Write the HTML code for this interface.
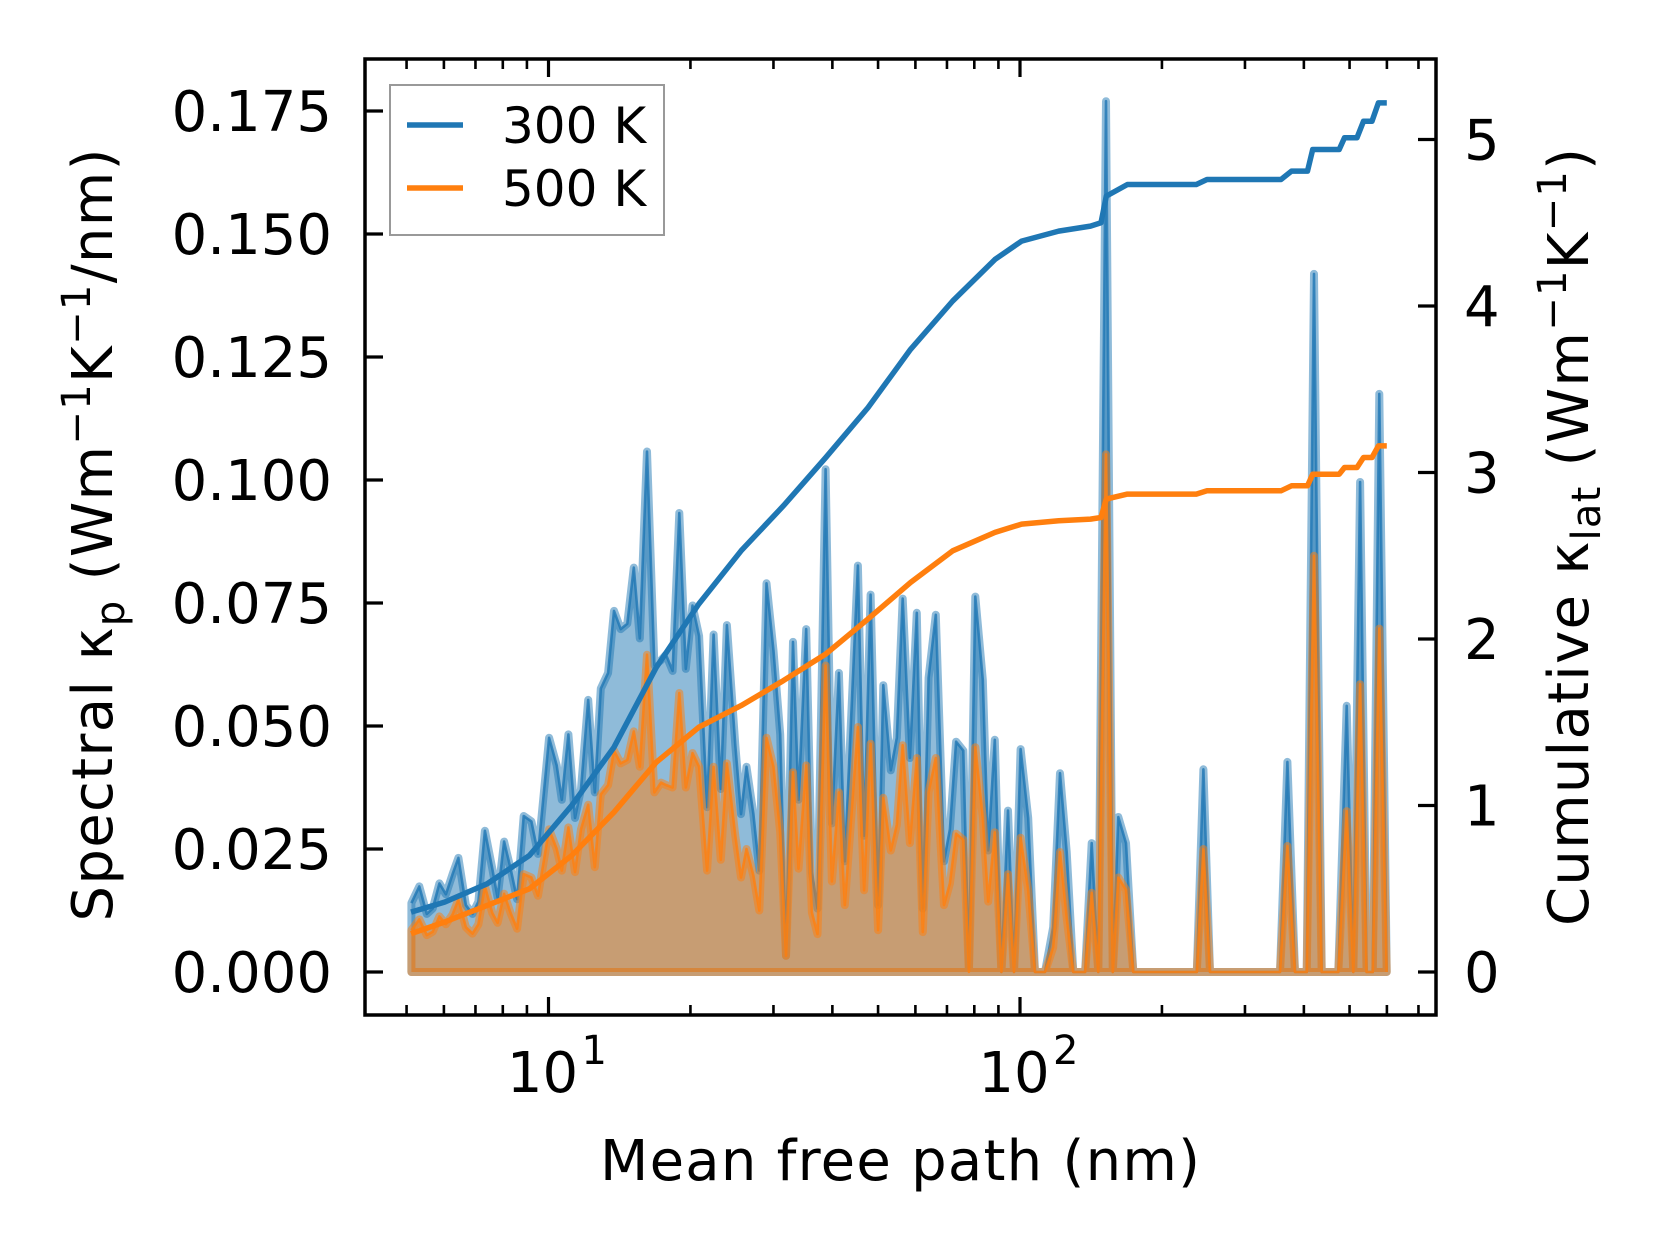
<!DOCTYPE html>
<html><head><meta charset="utf-8"><style>
html,body{margin:0;padding:0;background:#fff;}
svg{display:block;}
text{font-family:"DejaVu Sans","Liberation Sans",sans-serif;fill:#000;}
</style></head><body>
<svg id="chart" width="1660" height="1254" viewBox="0 0 1660 1254" xmlns="http://www.w3.org/2000/svg">
<rect x="0" y="0" width="1660" height="1254" fill="#fff"/>
<g id="plot"></g>
<g id="axes"></g>
<text x="900" y="1180" font-size="56" text-anchor="middle" textLength="600">Mean free path (nm)</text>
<text transform="translate(112,535) rotate(-90)" font-size="56" text-anchor="middle" textLength="773">Spectral κ<tspan font-size="40" dy="12">p</tspan><tspan dy="-12"> (Wm</tspan><tspan font-size="40" dy="-22">−1</tspan><tspan dy="22">K</tspan><tspan font-size="40" dy="-22">−1</tspan><tspan dy="22">/nm)</tspan></text>
<text transform="translate(1588,537) rotate(-90)" font-size="56" text-anchor="middle" textLength="778">Cumulative κ<tspan font-size="40" dy="12">lat</tspan><tspan dy="-12"> (Wm</tspan><tspan font-size="40" dy="-22">−1</tspan><tspan dy="22">K</tspan><tspan font-size="40" dy="-22">−1</tspan><tspan dy="22">)</tspan></text>
<g>
<rect x="390" y="85" width="274" height="150" fill="#fff" stroke="#999" stroke-width="2"/>
<line x1="407" y1="125" x2="463" y2="125" stroke="#1f77b4" stroke-width="5.5"/>
<text x="502" y="143" font-size="50">300 K</text>
<line x1="407" y1="188" x2="463" y2="188" stroke="#ff7f0e" stroke-width="5.5"/>
<text x="502" y="206" font-size="50">500 K</text>
</g>
</svg>
<script>
const mfp = [5.12,5.32,5.52,5.68,5.87,6.06,6.26,6.44,6.68,6.90,7.10,7.33,7.60,7.80,8.05,8.31,8.58,8.86,9.20,9.50,10.03,10.41,10.67,11.02,11.38,11.72,12.14,12.54,12.91,13.38,13.77,14.23,14.69,15.17,15.62,16.18,16.77,17.32,17.75,18.33,18.94,19.55,20.20,20.86,
21.7,22.4,23.2,23.9,24.9,25.6,26.3,27.2,28.0,29.0,30.0,31.0,31.9,33.0,33.9,35.2,36.2,37.2,38.7,39.9,41.3,42.5,45.3,46.7,48.2,50.0,51.3,53.2,54.8,56.4,58.4,60.4,62.2,64.0,66.3,69.0,71.0,73.2,75.8,77.9,80.4,83.4,85.6,88.4,91.3,94.3,97.1,100.3,104.1,107.6,113.0,
117.6,121.6,125.6,129.7,137.4,141.9,146.6,152.2,157.3,161.6,167.8,173.9,237.1,244.9,252.9,356.0,369.0,383.1,405.5,420.2,436.3,473.3,493.1,509.3,526.3,543.5,559.8,578.1,599.5];
const k300 = [.014,.0174,.0118,.0129,.018,.0158,.0199,.0232,.0136,.0118,.0143,.0287,.021,.0151,.0265,.021,.0148,.0317,.0306,.024,.0476,.042,.035,.0483,.0313,.0372,.0553,.0365,.0576,.0608,.0734,.0697,.0708,.0822,.0678,.1058,.0623,.0634,.0645,.0612,.0933,.0616,.0745,.0683,
.0335,.0686,.0372,.0705,.0461,.0321,.0417,.0321,.0206,.079,.0653,.0483,.0033,.0671,.035,.0697,.0203,.0129,.1022,.0302,.0608,.0225,.0826,.0277,.0767,.0136,.0583,.041,.0476,.0759,.0435,.073,.0129,.0598,.0726,.0225,.029,.0468,.045,.0004,.0763,.0594,.0247,.0472,0,.0328,0,.0453,.0313,0,0,
.0091,.0404,.0244,0,0,.0262,0,.177,0,.0315,.0262,0,0,.0412,0,0,.0427,0,0,.1419,0,0,.0541,0,.0996,0,0,.1175,0];
const k500 = [.0085,.0107,.0075,.0082,.0113,.0097,.0117,.0147,.0091,.0078,.0097,.0174,.012,.01,.0159,.012,.0088,.0199,.0192,.0155,.029,.025,.0206,.0294,.0203,.029,.034,.0213,.0361,.038,.045,.0424,.0431,.0489,.0417,.0645,.0365,.0385,.038,.0375,.0567,.0375,.0445,.0417,
.0206,.0417,.0228,.0424,.0277,.0192,.025,.0196,.0125,.0476,.0417,.0284,.0033,.0406,.021,.042,.0121,.0077,.0623,.0184,.0365,.0136,.0498,.0166,.0464,.0085,.0354,.0247,.0299,.0461,.0262,.0435,.0081,.0365,.0435,.0136,.018,.0281,.0269,0,.0457,.0313,.0143,.0284,0,.0199,0,.0273,.0166,0,0,
.005,.0244,.011,0,0,.0161,0,.1052,0,.0192,.0167,0,0,.025,0,0,.0256,0,0,.0846,0,0,.0327,0,.0585,0,0,.0698,0];
const cumMfp = [5.11,6.02,7.41,9.11,11.20,13.77,16.93,20.83,25.61,31.49,38.73,47.6,58.6,72.0,88.5,100.8,120.8,141.1,148.5,152.4,169.0,236.6,249.2,357.8,376.6,407.1,417.7,475.3,487.8,518.6,535.3,558.0,575.6,599.8];
const cum300 = [.36,.42,.53,.70,1.00,1.35,1.83,2.21,2.53,2.80,3.09,3.39,3.74,4.03,4.28,4.39,4.45,4.48,4.50,4.66,4.73,4.73,4.76,4.76,4.81,4.81,4.94,4.94,5.01,5.01,5.11,5.11,5.22,5.22];
const cum500 = [.23,.30,.40,.50,.70,.96,1.26,1.47,1.60,1.75,1.91,2.12,2.34,2.53,2.64,2.69,2.71,2.72,2.73,2.84,2.87,2.87,2.89,2.89,2.92,2.92,2.99,2.99,3.03,3.03,3.09,3.09,3.16,3.16];
const leftTicks = [0,0.025,0.05,0.075,0.1,0.125,0.15,0.175];
const leftTickLabels = ["0.000","0.025","0.050","0.075","0.100","0.125","0.150","0.175"];
const rightTicks = [0,1,2,3,4,5];
const xMajor = [10,100];
const xMajorExp = ["1","2"];

const NS="http://www.w3.org/2000/svg";
const L=365,R=1436,T=59,B=1015;
const X=v=>548.5+(Math.log10(v)-1)*471.5;
const Y=v=>972-v*4920;
const YR=v=>972-v*166.5;
const plot=document.getElementById('plot'), axes=document.getElementById('axes');
function mk(tag,attrs,parent){const e=document.createElementNS(NS,tag);for(const k in attrs)e.setAttribute(k,attrs[k]);parent.appendChild(e);return e;}

function spectral(vals,color,name){
  let pts=mfp.map((m,i)=>X(m).toFixed(1)+','+Y(vals[i]).toFixed(1));
  const poly=[X(mfp[0]).toFixed(1)+','+Y(0)].concat(pts,[X(mfp[mfp.length-1]).toFixed(1)+','+Y(0)]).join(' ');
  const f=mk('polygon',{points:poly,fill:color,'fill-opacity':0.5,stroke:color,'stroke-opacity':0.5,'stroke-width':8,'stroke-linejoin':'round'},plot);
  
  
  const l=mk('polyline',{points:pts.join(' '),fill:'none',stroke:color,'stroke-opacity':0.8,'stroke-width':2.6,'stroke-linejoin':'round'},plot);
  
  
}
spectral(k300,'#1f77b4','spectral-300k');
spectral(k500,'#ff7f0e','spectral-500k');
function cum(vals,color,name){
  const pts=cumMfp.map((m,i)=>X(m).toFixed(1)+','+YR(vals[i]).toFixed(1)).join(' ');
  const l=mk('polyline',{points:pts,fill:'none',stroke:color,'stroke-width':5.5,'stroke-linejoin':'round'},plot);
  
  
}
cum(cum300,'#1f77b4','cumulative-300k');
cum(cum500,'#ff7f0e','cumulative-500k');

const sp=mk('rect',{x:L,y:T,width:R-L,height:B-T,fill:'none',stroke:'#000','stroke-width':3.5},axes);


const tk={stroke:'#000','stroke-width':3.2};
leftTicks.forEach((v,i)=>{
  const y=Y(v);
  const t=mk('line',Object.assign({x1:L,x2:L+18,y1:y,y2:y},tk),axes);
  
  
  const lb=mk('text',{x:332,y:y+20,'font-size':56,'text-anchor':'end'},axes);
  lb.textContent=leftTickLabels[i];
  
  
});
rightTicks.forEach(v=>{
  const y=YR(v);
  const t=mk('line',Object.assign({x1:R-18,x2:R,y1:y,y2:y},tk),axes);
  
  
  const lb=mk('text',{x:1464,y:y+20,'font-size':56},axes);
  lb.textContent=String(v);
  
  
});
xMajor.forEach((v,i)=>{
  const x=X(v);
  [[B,B-18],[T,T+18]].forEach(p=>{
    const t=mk('line',Object.assign({x1:x,x2:x,y1:p[0],y2:p[1]},tk),axes);
    
    
  });
  const lb=mk('text',{x:x-6,y:1092,'font-size':56,'text-anchor':'middle'},axes);
  lb.textContent='10';
  
  
  const sup=mk('text',{x:x+33,y:1064,'font-size':40},axes);
  sup.textContent=xMajorExp[i];
  
  
});
[1,10,100].forEach(d=>{for(let m=2;m<=9;m++){const v=d*m;const x=X(v);if(x<L+2||x>R-2)continue;
  [[B,B-10],[T,T+10]].forEach(p=>{
    const t=mk('line',Object.assign({x1:x,x2:x,y1:p[0],y2:p[1]},{stroke:'#000','stroke-width':2.6}),axes);
    
    
  });}});
</script>
</body></html>
